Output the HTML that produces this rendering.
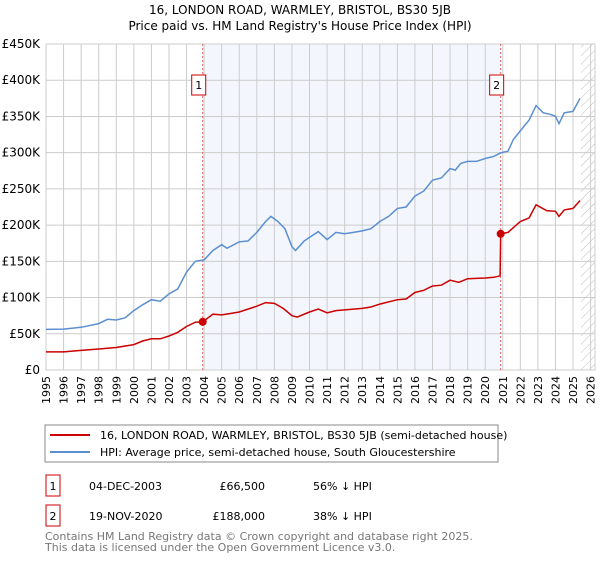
<!DOCTYPE html>
<html><head><meta charset="utf-8"><style>
body{margin:0;background:#fff;font-family:"DejaVu Sans","Liberation Sans",sans-serif;}
svg text{font-family:"DejaVu Sans","Liberation Sans",sans-serif;}
</style></head><body>
<svg id="c" width="600" height="560" viewBox="0 0 600 560">
<defs><pattern id="hatch" width="6" height="6" patternUnits="userSpaceOnUse" patternTransform="rotate(45)"><line x1="0" y1="0" x2="0" y2="6" stroke="#bbb" stroke-width="1"/></pattern></defs>
<text x="300" y="14" text-anchor="middle" font-size="12">16, LONDON ROAD, WARMLEY, BRISTOL, BS30 5JB</text>
<text x="300" y="30" text-anchor="middle" font-size="12">Price paid vs. HM Land Registry's House Price Index (HPI)</text>
<g id="plot"></g>
<rect x="45" y="425" width="453" height="37" fill="none" stroke="#888"/>
<line x1="50" y1="435" x2="90" y2="435" stroke="#cc0000" stroke-width="2"/>
<text x="100" y="439" font-size="11">16, LONDON ROAD, WARMLEY, BRISTOL, BS30 5JB (semi-detached house)</text>
<line x1="50" y1="452" x2="90" y2="452" stroke="#5b8fd0" stroke-width="2"/>
<text x="100" y="456" font-size="11">HPI: Average price, semi-detached house, South Gloucestershire</text>
<g font-size="11">
<rect x="46" y="475" width="14" height="21" fill="#fff" stroke="#cc0000"/>
<text x="53" y="490" text-anchor="middle">1</text>
<text x="89" y="490">04-DEC-2003</text><text x="265" y="490" text-anchor="end">£66,500</text><text x="313" y="490">56% ↓ HPI</text>
<rect x="46" y="505" width="14" height="21" fill="#fff" stroke="#cc0000"/>
<text x="53" y="520" text-anchor="middle">2</text>
<text x="89" y="520">19-NOV-2020</text><text x="265" y="520" text-anchor="end">£188,000</text><text x="313" y="520">38% ↓ HPI</text>
</g>
<text x="45" y="540" font-size="11" fill="#777">Contains HM Land Registry data © Crown copyright and database right 2025.</text>
<text x="45" y="551" font-size="11" fill="#777">This data is licensed under the Open Government Licence v3.0.</text>
</svg>
<script>
const hpiX=[1995,1996,1997,1998,1998.5,1999,1999.5,2000,2000.5,2001,2001.5,2002,2002.5,2003,2003.5,2004,2004.5,2005,2005.3,2006,2006.5,2007,2007.5,2007.8,2008.2,2008.6,2009,2009.2,2009.7,2010,2010.5,2011,2011.5,2012,2012.5,2013,2013.5,2014,2014.5,2015,2015.5,2016,2016.5,2017,2017.5,2018,2018.3,2018.6,2019,2019.5,2020,2020.5,2020.9,2021.3,2021.6,2022,2022.5,2022.9,2023.3,2023.7,2024,2024.2,2024.5,2025,2025.4];
const hpiY=[56,56.5,59,64,70,69,72,82,90,97,95,105,112,135,150,152,165,173,168,177,178,190,205,212,205,195,170,165,178,183,191,180,190,188,190,192,195,205,212,223,225,240,247,262,265,278,276,285,288,288,292,295,300,302,318,330,345,365,355,353,350,340,355,357,375];
const ppX=[1995,1996,1997,1998,1999,2000,2000.5,2001,2001.5,2002,2002.5,2003,2003.5,2003.92,2004.5,2005,2005.5,2006,2007,2007.5,2008,2008.5,2009,2009.3,2010,2010.5,2011,2011.5,2012,2013,2013.5,2014,2015,2015.5,2016,2016.5,2017,2017.5,2018,2018.5,2019,2020,2020.5,2020.85,2020.88,2021.3,2022,2022.5,2022.9,2023.5,2024,2024.2,2024.5,2025,2025.4];
const ppY=[25,25,27,29,31,35,40,43,43,47,52,60,66,66.5,77,76,78,80,88,93,92,85,75,73,80,84,79,82,83,85,87,91,97,98,107,110,116,117,124,121,126,127,128,130,188,190,205,210,228,220,219,212,221,223,234];
const saleX=[2003.92,2020.88];
const saleY=[66.5,188];
const saleLabels=["1","2"];
const yTicks=[0,50,100,150,200,250,300,350,400,450];
const yTickLabels=["£0","£50K","£100K","£150K","£200K","£250K","£300K","£350K","£400K","£450K"];
const xTicks=[];for(let y=1995;y<=2026;y++)xTicks.push(y);
const X0=46,X1=595,D0=1995,D1=2026.25,Y0=370,Y1=44;
const sx=v=>X0+(v-D0)/(D1-D0)*(X1-X0);
const sy=v=>Y0-v/450*(Y0-Y1);
const NS="http://www.w3.org/2000/svg";
const g=document.getElementById('plot');
function mk(t,a){const e=document.createElementNS(NS,t);for(const k in a)e.setAttribute(k,a[k]);g.appendChild(e);return e;}
let e=mk('rect',{x:sx(saleX[0]),y:Y1,width:sx(saleX[1])-sx(saleX[0]),height:Y0-Y1,fill:'#eef3fc',opacity:0.7});


e=mk('rect',{x:sx(2025.45),y:Y1,width:X1-sx(2025.45),height:Y0-Y1,fill:'url(#hatch)'});


xTicks.forEach(t=>{
 e=mk('line',{x1:sx(t),x2:sx(t),y1:Y1,y2:Y0,stroke:'#ccc'});
 
 
 e=mk('text',{x:sx(t)+4,y:Y0+6,'font-size':11,'text-anchor':'end',transform:`rotate(-90 ${sx(t)+4} ${Y0+6})`});
 e.textContent=t;
 
 
});
yTicks.forEach((t,i)=>{
 e=mk('line',{x1:X0,x2:X1,y1:sy(t),y2:sy(t),stroke:'#ccc'});
 
 
 e=mk('text',{x:X0-6,y:sy(t)+4,'font-size':12,'text-anchor':'end'});
 e.textContent=yTickLabels[i];
 
 
});
e=mk('rect',{x:X0,y:Y1,width:X1-X0,height:Y0-Y1,fill:'none',stroke:'#ccc'});


saleX.forEach((s,i)=>{
 e=mk('line',{x1:sx(s),x2:sx(s),y1:Y1,y2:Y0,stroke:'#e06060','stroke-dasharray':'2,2'});
 
 
 e=mk('rect',{x:sx(s)-11,y:75,width:14,height:20,fill:'#fff',stroke:'#cc0000'});
 
 
 e=mk('text',{x:sx(s)-4,y:89,'font-size':11,'text-anchor':'middle'});
 e.textContent=saleLabels[i];
 
 
});
const path=(xs,ys)=>xs.map((x,i)=>(i?'L':'M')+sx(x).toFixed(1)+','+sy(ys[i]).toFixed(1)).join('');
e=mk('path',{d:path(hpiX,hpiY),fill:'none',stroke:'#5b8fd0','stroke-width':1.5});


e=mk('path',{d:path(ppX,ppY),fill:'none',stroke:'#cc0000','stroke-width':1.5});


saleX.forEach((s,i)=>{
 e=mk('circle',{cx:sx(s),cy:sy(saleY[i]),r:4,fill:'#cc0000'});
 
 
});
</script>
</body></html>
